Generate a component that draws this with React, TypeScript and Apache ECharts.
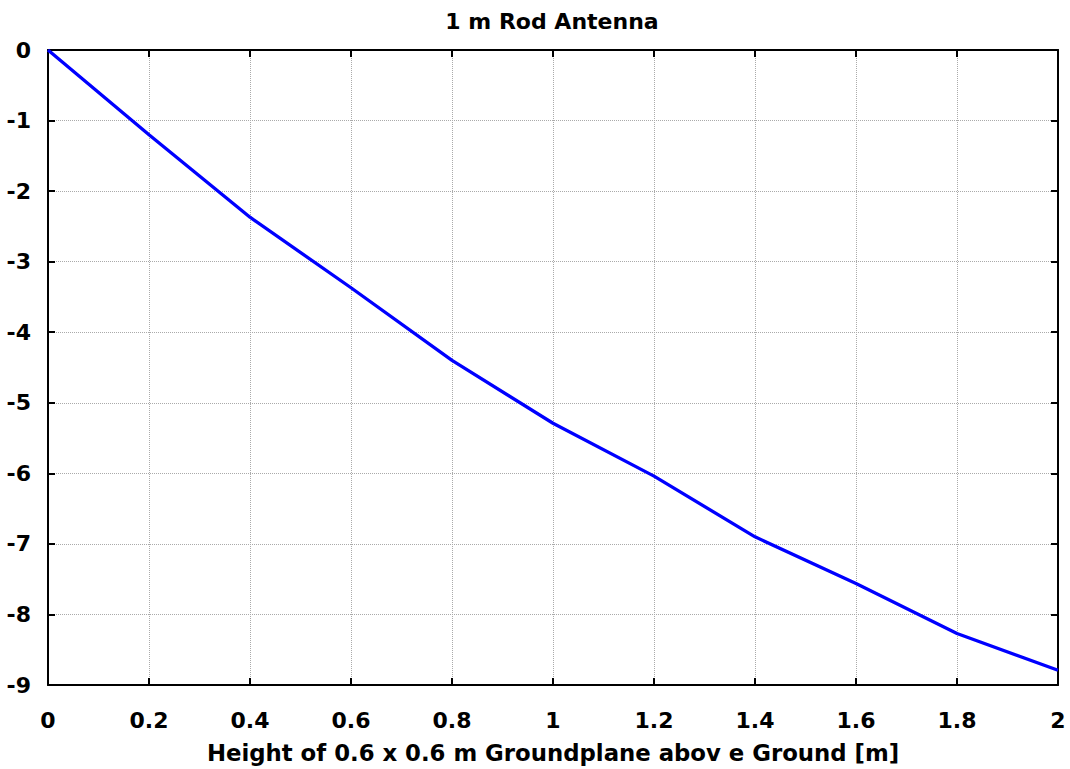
import React, { useEffect, useRef } from "react";
import * as echarts from "echarts";

const heights = [0, 0.2, 0.4, 0.6, 0.8, 1.0, 1.2, 1.4, 1.6, 1.8, 2.0];
const gains = [0, -1.2, -2.37, -3.37, -4.4, -5.29, -6.04, -6.9, -7.56, -8.27, -8.79];
const titleText = "1 m Rod Antenna";
const xAxisTitle = "Height of 0.6 x 0.6 m Groundplane abov e Ground [m]";

const FONT = "DejaVu Sans";

export default function App() {
  const ref = useRef<HTMLDivElement>(null);
  useEffect(() => {
    if (!ref.current) return;
    const chart = echarts.init(ref.current, undefined, { renderer: "svg" });
    const axisLine = { show: true, onZero: false, lineStyle: { color: "#000", width: 2 } };
    const tick = { show: true, inside: true, length: 7, lineStyle: { color: "#000", width: 2 } };
    const split = { show: true, lineStyle: { color: "#aaaaaa", width: 1, type: "dotted" as const } };
    chart.setOption({
      animation: false,
      backgroundColor: "#fff",
      title: {
        text: titleText,
        left: 547,
        top: 5,
        textAlign: "center",
        textStyle: { fontFamily: FONT, fontWeight: "bold", fontSize: 22, color: "#000" },
      },
      grid: { left: 48, right: 12, top: 50, bottom: 81, containLabel: false },
      xAxis: [
        {
          type: "value",
          min: 0,
          max: 2,
          interval: 0.2,
          position: "bottom",
          axisLine,
          axisTick: tick,
          splitLine: split,
          axisLabel: {
            margin: 24,
            fontFamily: FONT,
            fontWeight: "bold",
            fontSize: 22,
            color: "#000",
            showMinLabel: true,
            showMaxLabel: true,
            formatter: (v: number) => String(Math.round(v * 10) / 10),
          },
          name: xAxisTitle,
          nameLocation: "middle",
          nameGap: 56,
          nameTextStyle: { fontFamily: FONT, fontWeight: "bold", fontSize: 22.8, color: "#000" },
        },
        {
          type: "value",
          min: 0,
          max: 2,
          interval: 0.2,
          position: "top",
          axisLine,
          axisTick: tick,
          splitLine: { show: false },
          axisLabel: { show: false },
        },
      ],
      yAxis: [
        {
          type: "value",
          min: -9,
          max: 0,
          interval: 1,
          position: "left",
          axisLine,
          axisTick: tick,
          splitLine: split,
          axisLabel: {
            margin: 17,
            fontFamily: FONT,
            fontWeight: "bold",
            fontSize: 22,
            color: "#000",
            showMinLabel: true,
            showMaxLabel: true,
          },
        },
        {
          type: "value",
          min: -9,
          max: 0,
          interval: 1,
          position: "right",
          axisLine,
          axisTick: tick,
          splitLine: { show: false },
          axisLabel: { show: false },
        },
      ],
      series: [
        {
          type: "line",
          data: heights.map((h, i) => [h, gains[i]]),
          showSymbol: false,
          symbol: "none",
          lineStyle: { color: "#0000ff", width: 3.3 },
          itemStyle: { color: "#0000ff" },
          z: 5,
        },
      ],
    });
    return () => chart.dispose();
  }, []);
  return (
    <div
      ref={ref}
      style={{ position: "fixed", left: 0, top: 0, width: 1070, height: 769, background: "#fff" }}
    />
  );
}
